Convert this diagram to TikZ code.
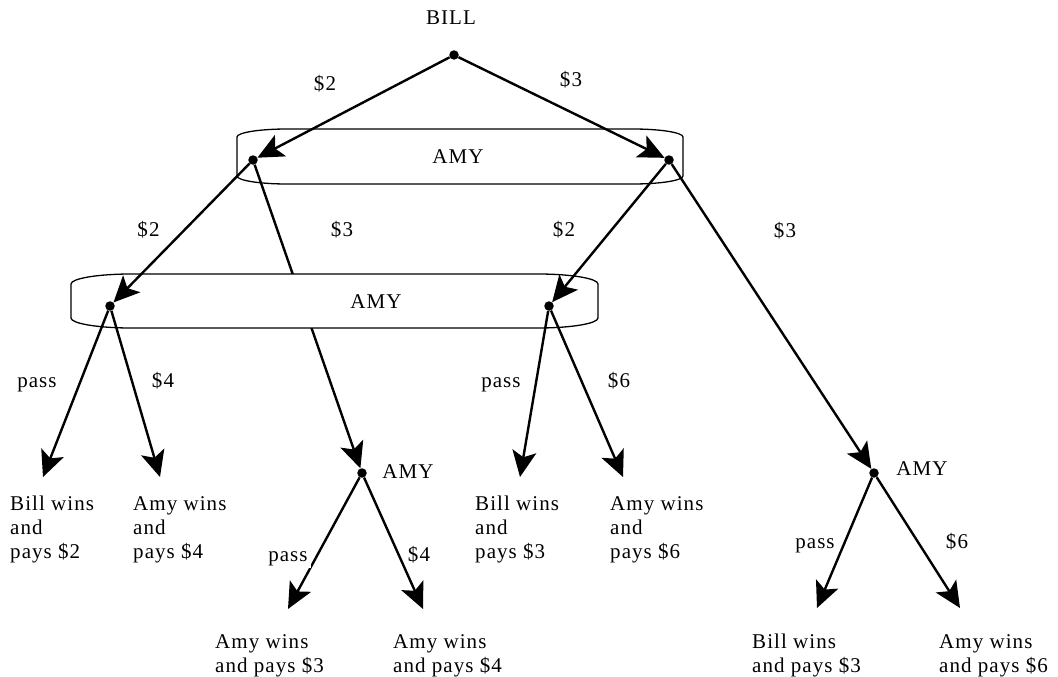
\documentclass[tikz,border=0pt]{standalone}
\usepackage{fontspec}
\setmainfont{Liberation Serif}[LetterSpace=5]
\usetikzlibrary{arrows.meta}
\pgfdeclarelayer{under}
\pgfdeclarelayer{cover}
\pgfsetlayers{under,cover,main}
% outcome texts: several left-aligned lines, baseline on the first one
\newcommand\stackedtext[1]{\begin{tabular}[t]{@{}l@{}}#1\end{tabular}}
\begin{document}
\begin{tikzpicture}[x=1pt,y=-1pt,
  every node/.style={font=\fontsize{21}{24}\selectfont, inner sep=0pt},
  dot/.style={circle, fill=black, minimum size=9.5pt, inner sep=0pt},
  move/.style={line width=2.4pt, -{Stealth[length=26pt,width=24pt,inset=6pt]}},
  infoset/.style={line width=1.3pt, fill=white},
  lbl/.style={anchor=base},
  outcome/.style={anchor=base west},
]
\useasboundingbox (0,0) rectangle (1058,677);

% decision points
\node[dot] (root) at (454,55) {};
\node[dot] (a1) at (253,160) {};
\node[dot] (a2) at (669,160) {};
\node[dot] (b1) at (110,306) {};
\node[dot] (b2) at (549,306) {};
\node[dot] (c) at (362,473) {};
\node[dot] (d) at (874,473) {};

% end points of the final moves
\coordinate (t1) at (43,477);
\coordinate (t2) at (160,477);
\coordinate (t3) at (520,477);
\coordinate (t4) at (623,477);
\coordinate (t5) at (288,609);
\coordinate (t6) at (423,609);
\coordinate (t7) at (817,608);
\coordinate (t8) at (960,608);

% first information set, and the move that runs behind the second one
\begin{pgfonlayer}{under}
\draw[infoset] (287,129) -- (633,129)
  .. controls (660.6,129) and (683,132.6) .. (683,137) -- (683,176)
  .. controls (683,180.4) and (660.6,184) .. (633,184) -- (287,184)
  .. controls (259.4,184) and (237,180.4) .. (237,176) -- (237,137)
  .. controls (237,132.6) and (259.4,129) .. (287,129) -- cycle;
\draw[move] (a1) -- (c);
\end{pgfonlayer}

% second information set
\begin{pgfonlayer}{cover}
\draw[infoset] (131,274) -- (538,274)
  .. controls (571.1,274) and (598,278.5) .. (598,284) -- (598,318)
  .. controls (598,323.5) and (571.1,328) .. (538,328) -- (131,328)
  .. controls (97.9,328) and (71,323.5) .. (71,318) -- (71,284)
  .. controls (71,278.5) and (97.9,274) .. (131,274) -- cycle;
\end{pgfonlayer}

% moves
\draw[move] (root) -- (a1);
\draw[move] (root) -- (a2);
\draw[move] (a1) -- (b1);
\draw[move] (a2) -- (b2);
\draw[move] (a2) -- (d);
\draw[move] (b1) -- (t1);
\draw[move] (b1) -- (t2);
\draw[move] (b2) -- (t3);
\draw[move] (b2) -- (t4);
\draw[move] (c) -- (t5);
\draw[move] (c) -- (t6);
\draw[move] (d) -- (t7);
\draw[move] (d) -- (t8);

% players
\node[lbl] (pbill) at (451,24.3) {BILL};
\node[lbl] (pamy1) at (458,163.3) {AMY};
\node[lbl] (pamy2) at (376,308) {AMY};
\node[lbl] (pamy3) at (408,478) {AMY};
\node[lbl] (pamy4) at (922,475) {AMY};

% move labels
\node[lbl] (m1) at (325,90.7) {\$2};
\node[lbl] (m2) at (571,86) {\$3};
\node[lbl] (m3) at (148.5,236.7) {\$2};
\node[lbl] (m4) at (342,236.7) {\$3};
\node[lbl] (m5) at (564,236.7) {\$2};
\node[lbl] (m6) at (785,237) {\$3};
\node[lbl] (m7) at (37,387) {pass};
\node[lbl] (m8) at (163,387) {\$4};
\node[lbl] (m9) at (501,387) {pass};
\node[lbl] (m10) at (619,387) {\$6};
\node[lbl, fill=white, inner sep=3pt] (m11) at (288,561) {pass};
\node[lbl] (m12) at (419,561) {\$4};
\node[lbl] (m13) at (815,548) {pass};
\node[lbl] (m14) at (957,548) {\$6};

% outcomes
\node[outcome] (o1) at (10,510) {\stackedtext{Bill wins\\and\\pays \$2}};
\node[outcome] (o2) at (133,510) {\stackedtext{Amy wins\\and\\pays \$4}};
\node[outcome] (o3) at (475,510) {\stackedtext{Bill wins\\and\\pays \$3}};
\node[outcome] (o4) at (610,510) {\stackedtext{Amy wins\\and\\pays \$6}};
\node[outcome] (o5) at (215,648) {\stackedtext{Amy wins\\and pays \$3}};
\node[outcome] (o6) at (393,648) {\stackedtext{Amy wins\\and pays \$4}};
\node[outcome] (o7) at (752,648) {\stackedtext{Bill wins\\and pays \$3}};
\node[outcome] (o8) at (939,648) {\stackedtext{Amy wins\\and pays \$6}};
\end{tikzpicture}
\end{document}
